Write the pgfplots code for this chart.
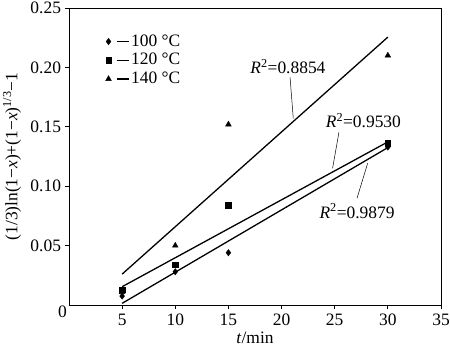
\documentclass[border=0pt]{standalone}
\usepackage{fontspec}
\setmainfont{Liberation Serif}
\usepackage{pgfplots}
\pgfplotsset{compat=1.18}
\begin{document}
\fontsize{17.5}{20}\selectfont
\begin{tikzpicture}
\begin{axis}[
  name=ax,
  scale only axis,
  width=372bp, height=297bp,
  xmin=0, xmax=35, ymin=0, ymax=0.25,
  xtick={5,10,15,20,25,30,35},
  ytick={0.05,0.10,0.15,0.20,0.25},
  yticklabels={0.05,0.10,0.15,0.20,0.25},
  xticklabels={5,10,15,20,25,30,35},
  tick align=outside, tick pos=left,
  major tick length=4bp,
  axis line style={line width=0.8pt},
  tick style={line width=0.8pt, black},
  /pgf/number format/assume math mode=true,
  yticklabel style={xshift=2bp},
  xticklabel style={yshift=1bp},
  xlabel={\textit{t}/min},
  ylabel={(1/3)ln(1−\textit{x})+(1−\textit{x})\textsuperscript{1/3}−1},
  xlabel style={at={(axis description cs:0.5,0)}, anchor=center, yshift=-33bp},
  ylabel style={at={(axis description cs:0,0.5)}, anchor=center, yshift=57bp},
  legend style={at={(axis description cs:0.09,0.925)}, anchor=north west, draw=none, fill=none,
    row sep=0.5bp, font=\fontsize{17.5}{20}\selectfont},
  legend cell align=left,
  legend image code/.code={\draw[#1, only marks] plot coordinates {(0bp,0bp)}; \draw[line width=1.2pt] (8bp,0bp) -- (20bp,0bp);},
  clip=false,
]
\addplot[only marks, mark=diamond*, mark size=3.2bp, black] coordinates {(5,0.0075) (10,0.028) (15,0.044) (30,0.133)};
\addlegendentry{100 °C}
\addplot[only marks, mark=square*, mark size=2.8bp, black] coordinates {(5,0.013) (10,0.034) (15,0.084) (30,0.136)};
\addlegendentry{120 °C}
\addplot[only marks, mark=triangle*, mark size=3.3bp, black] coordinates {(5,0.011) (10,0.050) (15,0.152) (30,0.210)};
\addlegendentry{140 °C}
\addplot[black, line width=1.3pt, forget plot] coordinates {(5,0.026) (30,0.2255)};
\addplot[black, line width=1.3pt, forget plot] coordinates {(5,0.0154) (30,0.1373)};
\addplot[black, line width=1.3pt, forget plot] coordinates {(5,0.0014) (30,0.1325)};
\draw[line width=0.5pt] (axis cs:20.8,0.1916) -- (axis cs:21.1,0.157);
\draw[line width=0.5pt] (axis cs:25.4,0.1454) -- (axis cs:24.8,0.1151);
\draw[line width=0.5pt] (axis cs:27.1,0.0899) -- (axis cs:28.1,0.1193);
\node at (axis cs:20.6,0.2008) {\textit{R}\textsuperscript{2}=0.8854};
\node at (axis cs:27.7,0.1555) {\textit{R}\textsuperscript{2}=0.9530};
\node at (axis cs:27.1,0.079) {\textit{R}\textsuperscript{2}=0.9879};
\node[anchor=north east, inner sep=0pt] at ([xshift=-2bp,yshift=-1bp]rel axis cs:0,0) {0};
\end{axis}
\pgfresetboundingbox
\path ([xshift=-69bp,yshift=-46bp]ax.south west) rectangle ([xshift=9bp,yshift=8bp]ax.north east);
\end{tikzpicture}
\end{document}
